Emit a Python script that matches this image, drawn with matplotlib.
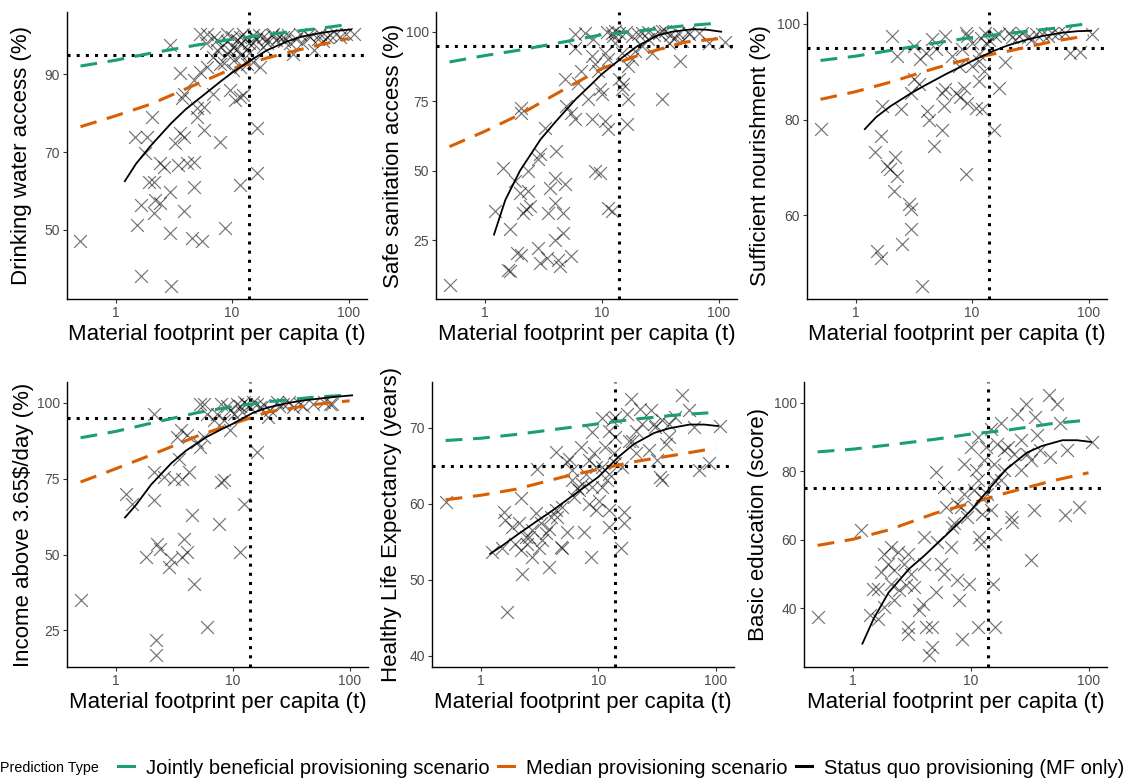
import matplotlib
matplotlib.use("Agg")
import matplotlib.pyplot as plt
from matplotlib.lines import Line2D

plt.rcParams["font.family"] = ["Liberation Sans", "DejaVu Sans"]

# --- shared x grids for the fitted lines (material footprint, t/cap) ---
SCENARIO_MF = [0.5, 1, 2, 5, 10, 20, 50, 100]
STATUSQUO_MF = [1.2, 1.5, 2, 3, 4, 6, 8, 10, 15, 20, 30, 40, 60, 80, 105]

# --- Drinking water access (%) ---
water_mf = [0.50, 1.64, 2.99, 1.53, 1.64, 2.13, 2.2, 2.4, 1.93, 2.13, 2.4, 2.6, 2.06, 1.48, 1.86,
            1.8, 2.95, 2.95, 3.84, 4.68, 4.5, 5.5, 8.7, 11.7, 16.3, 16.3, 11.7, 9.6, 10.6, 12.5,
            7.9, 5.7, 5.0, 5.7, 3.84, 3.6, 3.26, 3.4, 4.1, 4.68, 3.7, 3.84, 3.6, 4.68, 5.3,
            5.0, 6.9, 2.95, 6.1, 6.9, 7.9, 6.1, 7.4, 9.0, 10.2, 11.7, 13.3, 17.3, 15.2, 10.2,
            11.0, 12.5, 15.2, 18.5, 22.5, 27.4, 31.3, 33.5, 38.2, 46.4, 50, 56.5, 68.5, 78.4, 95.3,
            112, 13.3, 15.2, 18.5, 24, 9.0, 5.3, 7.4, 19.8, 11.7,
            6, 7, 8, 9, 10, 11, 12, 13, 14, 16, 17, 20, 22, 25, 28, 30, 35, 40, 45, 55, 60, 65, 85,
            8.5, 9.5, 10.5, 12, 14]
water = [47.0, 38.2, 35.5, 51.3, 56.4, 54.3, 57.7, 56.8, 62.4, 62.4, 67.1, 66.2, 79.1, 73.9, 73.9,
         69.7, 59.8, 49.1, 54.7, 61.1, 47.9, 47.0, 50.4, 61.5, 64.5, 76.1, 84.2, 85.9, 83.3, 84.6,
         72.6, 75.6, 81.2, 81.6, 73.9, 74.8, 72.2, 66.7, 67.1, 67.5, 83.8, 85.0, 90.2, 88.5, 90.6,
         79.1, 85.0, 97.4, 91.9, 94.4, 92.7, 100.4, 98.7, 95.3, 91.0, 91.9, 92.7, 91.9, 93.2, 97.0,
         98.7, 100.4, 100.0, 99.6, 100.4, 99.6, 97.9, 95.3, 100.4, 99.6, 96.2, 100.4, 100.0, 100.4, 100.4,
         100.4, 96.6, 97.9, 97.0, 98.7, 100.4, 100.4, 96.2, 99.1, 99.6,
         98.0, 99.5, 97.0, 98.5, 99.5, 96.5, 98.0, 99.0, 98.0, 99.0, 100.0, 98.0, 100.0, 99.5, 98.5,
         100.0, 99.0, 98.0, 100.0, 99.0, 98.5, 99.5, 99.5, 93.0, 96.0, 94.0, 95.0, 95.5]
water_joint = [92.1, 93.6, 95.4, 97.5, 99.0, 100.2, 101.6, 102.8]
water_median = [76.5, 79.3, 82.3, 87.5, 91.4, 94.2, 97.2, 99.2]
water_status = [62.5, 67.0, 71.6, 77.4, 81.0, 85.2, 88.2, 90.4, 93.9, 96.2, 98.5, 99.7, 100.7, 101.2, 101.5]

# --- Safe sanitation access (%) ---
sanit_mf = [0.5, 1.22, 1.44, 1.64, 1.58, 1.64, 1.81, 1.87, 2.06, 1.99, 2.35, 2.27, 2.43, 2.13, 2.06,
            2.06, 2.35, 2.86, 2.96, 2.86, 2.96, 3.38, 3.27, 3.49, 3.6, 3.98, 4.1, 3.98, 3.98, 4.25,
            4.4, 4.85, 4.7, 4.7, 5.5, 5.0, 5.5, 5.9, 4.85, 5.9, 5.9, 6.3, 6.7, 7.7, 8.2,
            8.8, 9.3, 9.6, 10, 10.7, 11.4, 8.8, 9.6, 11.4, 12.2, 7.2, 8.5, 8.2, 10.7, 12.2,
            13, 13, 14, 14.9, 15.3, 16.4, 16.9, 16.9, 18.1, 19.3, 22, 20.6, 25.1, 26.8, 32.7,
            30.6, 35, 37.3, 42.5, 48.6, 47, 55.3, 67.5, 82, 114, 11.4, 14.9, 18.1, 22,
            11, 12.5, 14, 16, 25, 28, 33, 38, 45, 55]
sanit = [8.7, 35.5, 51.1, 29.1, 14.4, 13.8, 46.3, 20.4, 19.8, 42.1, 42.7, 36.1, 37.3, 34.9, 72.7,
         70.9, 49.9, 54.1, 55.9, 22.2, 16.8, 18.6, 65.5, 34.9, 43.9, 47.5, 57.1, 38.5, 25.2, 18.0,
         15.6, 45.1, 34.9, 27.6, 19.2, 73.3, 70.9, 68.5, 82.9, 99.2, 94.4, 81.7, 85.9, 75.7, 68.5,
         88.3, 85.9, 79.3, 77.5, 67.9, 64.9, 49.9, 49.3, 36.7, 35.5, 99.8, 97.4, 91.3, 92.5, 99.8,
         100.4, 96.2, 82.9, 79.3, 81.1, 66.7, 75.7, 87.7, 90.1, 93.1, 95.0, 99.2, 97.4, 92.5, 75.7,
         99.8, 100.4, 96.2, 98.0, 96.8, 89.5, 99.2, 99.8, 96.2, 96.4, 90.1, 92.5, 98.6, 99.8,
         100.0, 98.5, 99.5, 100.0, 100.0, 99.0, 100.2, 99.0, 99.5, 100.0]
sanit_joint = [89.2, 91.5, 93.5, 96.6, 99.0, 100.3, 102.2, 103.2]
sanit_median = [58.7, 64.2, 70.3, 79.8, 86.8, 91.4, 96.3, 97.6]
sanit_status = [27.0, 39.5, 50.0, 61.3, 67.5, 75.8, 80.8, 84.8, 90.8, 94.8, 98.8, 100.1, 101.0, 100.8, 100.1]

# --- Sufficient nourishment (%) ---
nourish_mf = [0.51, 1.48, 1.64, 1.53, 1.64, 1.87, 1.99, 2.2, 2.27, 2.13, 2.51, 2.86, 2.96, 2.96, 3.73,
              4.7, 5.5, 4.1, 4.25, 3.5, 3.2, 2.96, 1.7, 2.43, 2.06, 2.27, 3.2, 3.6, 3.98, 4.5,
              4.85, 5.5, 5.7, 5.9, 7.2, 7.9, 8.5, 8.8, 9.1, 10.7, 11.4, 12.2, 12.6, 15.3, 16.9,
              19.3, 5.9, 6.7, 8.2, 8.8, 10, 11.4, 13, 13.4, 15.8, 20.6, 22, 26.8, 32.7, 39.9,
              48.6, 63, 69, 85, 107, 7.7, 10, 11.4, 9, 12, 14, 17, 25, 30, 35, 45, 55]
nourish = [78.1, 73.2, 76.6, 52.6, 51.2, 70.3, 69.6, 72.2, 68.2, 65.1, 54.0, 62.3, 61.3, 57.2, 45.4,
           74.5, 77.9, 81.8, 80.0, 87.3, 88.4, 85.6, 82.8, 82.1, 97.4, 93.3, 95.3, 92.6, 93.9, 96.7,
           94.6, 85.6, 82.8, 86.3, 85.6, 84.6, 86.6, 68.6, 83.5, 82.5, 88.0, 82.1, 90.1, 77.9, 86.6,
           91.9, 97.4, 93.3, 94.6, 98.1, 96.0, 93.6, 98.1, 95.7, 97.4, 98.1, 97.1, 98.1, 96.7, 97.8,
           98.1, 98.1, 93.9, 94.1, 97.8, 91.2, 91.2, 92.2, 97.5, 97.0, 96.5, 97.8, 97.5, 97.2, 97.9, 97.5, 98.0]
nourish_joint = [92.3, 93.2, 94.4, 96.0, 97.1, 97.9, 99.0, 100.0]
nourish_median = [84.2, 85.8, 87.8, 90.8, 92.8, 94.2, 96.3, 97.5]
nourish_status = [78.0, 80.5, 82.8, 85.5, 87.2, 89.5, 91.0, 92.2, 94.2, 95.4, 96.7, 97.4, 98.1, 98.4, 98.5]

# --- Income above 3.65$/day (%) ---
income_mf = [0.5, 1.22, 1.39, 1.8, 2.12, 2.12, 2.12, 2.2, 2.2, 2.26, 2.4, 2.95, 2.84, 2.58, 3.14,
             3.46, 3.58, 3.35, 3.7, 3.7, 3.8, 4.1, 4.2, 4.1, 4.5, 4.65, 5.3, 5.65, 6.0, 6.9,
             7.6, 7.9, 8.4, 9.5, 10.2, 11.6, 12.4, 16.1, 7.9, 9.5, 10.9, 12.4, 14.1, 16.1, 18.4,
             21, 20, 23.9, 27, 33, 37.8, 49, 67.8, 6.0, 7.3, 8.4, 5.3, 5.0, 5.65,
             11.5, 13, 15, 17, 25, 30, 40, 60, 70, 9, 12]
income = [34.9, 70.1, 66.8, 49.2, 67.9, 77.2, 96.3, 21.9, 16.7, 53.6, 51.9, 48.6, 45.9, 75.6, 75.0,
          81.6, 91.0, 88.8, 75.0, 49.2, 55.2, 50.8, 77.2, 89.3, 62.9, 40.4, 99.8, 99.8, 26.1, 94.3,
          60.2, 73.9, 74.5, 91.0, 96.5, 50.8, 66.8, 83.8, 99.8, 97.6, 99.8, 100.3, 98.7, 99.8, 99.2,
          97.6, 95.4, 100.3, 99.8, 98.7, 99.8, 99.8, 99.8, 96.5, 96.5, 94.3, 85.5, 87.1, 88.8,
          99.0, 99.5, 100.2, 98.5, 99.0, 100.2, 99.0, 100.3, 99.5, 99.0, 97.0]
income_joint = [88.5, 90.6, 93.3, 96.8, 98.8, 100.4, 101.9, 102.6]
income_median = [73.9, 78.3, 82.8, 89.1, 93.1, 97.0, 99.5, 100.7]
income_status = [62.2, 66.5, 73.0, 80.2, 84.3, 88.8, 91.3, 93.1, 96.8, 98.5, 100.0, 100.8, 101.6, 102.1, 102.5]

# --- Healthy Life Expectancy (years) ---
hale_mf = [0.5, 1.25, 1.52, 1.62, 1.68, 1.57, 1.85, 2.18, 2.25, 2.18, 2.11, 2.4, 2.48, 2.73, 2.92,
           2.99, 3.12, 3.23, 3.56, 3.8, 3.8, 3.93, 4.33, 4.33, 4.77, 4.92, 5.4, 5.4, 5.6, 6.0,
           6.2, 6.6, 7.1, 7.5, 7.8, 8.6, 8.9, 8.9, 9.2, 9.5, 10.1, 10.8, 10.8, 11.5, 11.9,
           12.3, 13.2, 13.6, 14.0, 15.5, 16.5, 16.5, 17.7, 18.9, 19.5, 20.8, 22.9, 23.7, 26.9, 27.9,
           29.8, 31.7, 33.8, 35.0, 37.5, 40, 45.5, 52, 58.9, 65, 72, 87.6, 110, 7.3, 8.3,
           9.5, 12.3, 14.0, 16, 18.2, 20.8, 30.7, 35.0, 40, 12.3, 14.0, 6.8, 6.0, 4.9, 3.33,
           2.57, 1.97, 2.73, 4.47, 10.8, 8.3, 12.3]
hale = [60.2, 53.6, 54.1, 57.8, 45.7, 58.9, 56.9, 60.7, 50.8, 53.9, 57.4, 55.6, 54.7, 56.5, 58.7,
        64.5, 54.1, 57.4, 56.1, 51.7, 56.7, 58.2, 66.8, 59.1, 54.3, 54.1, 56.3, 65.5, 65.9, 64.4,
        60.9, 62.0, 67.5, 56.3, 63.9, 53.0, 69.4, 62.2, 66.6, 59.1, 60.4, 71.2, 64.8, 67.5, 63.1,
        56.9, 71.0, 66.6, 68.8, 54.1, 58.9, 57.4, 71.8, 73.8, 68.3, 66.6, 72.5, 70.5, 67.0, 72.3,
        70.5, 65.7, 63.5, 63.1, 67.9, 70.5, 71.4, 74.3, 72.3, 70.1, 64.4, 65.3, 70.2, 62.6, 65.7,
        64.8, 63.9, 65.3, 64.8, 68.3, 69.6, 70.1, 71.0, 68.8, 69.6, 71.4, 61.8, 63.1, 59.6, 55.2,
        55.6, 54.7, 53.0, 58.2, 62.2, 60.0, 59.1]
hale_joint = [68.3, 68.6, 69.1, 69.9, 70.5, 71.1, 71.7, 72.0]
hale_median = [60.5, 61.1, 61.9, 63.5, 64.5, 65.5, 66.5, 67.3]
hale_status = [53.4, 54.4, 55.8, 57.7, 59.0, 61.0, 62.4, 63.5, 66.2, 67.8, 69.3, 69.9, 70.4, 70.4, 70.2]

# --- Basic education (score) ---
educ_mf = [0.5, 1.17, 1.38, 1.47, 1.62, 1.62, 1.73, 1.84, 1.84, 1.97, 2.1, 2.1, 2.24, 2.24, 2.39,
           2.47, 2.72, 2.81, 2.9, 2.9, 2.9, 3.1, 3.31, 3.65, 3.89, 3.99, 3.99, 4.15, 4.43, 4.72,
           4.72, 5.04, 5.04, 5.2, 5.56, 5.95, 5.95, 6.12, 6.75, 6.98, 7.7, 7.93, 8.2, 8.5, 8.74,
           9.3, 9.6, 10, 10.7, 11.0, 11.4, 11.7, 12.1, 12.5, 12.9, 13.4, 14.8, 15.3, 15.7, 16.2,
           16.2, 16.8, 18.0, 19.1, 21.8, 22.5, 24.8, 26.5, 29.2, 32.3, 34.3, 32.3, 35.4, 36.6, 39,
           46, 47.5, 54, 57.7, 65.7, 63.6, 82.8, 107, 10.7, 11.4, 12.1, 13.8, 14.8, 15.7, 18,
           20.6, 23.3, 8.74, 7.7, 7.2, 11.4, 19.1, 26.5, 30.2]
educ = [37.4, 62.7, 37.9, 45.7, 45.7, 36.9, 50.5, 55.9, 40.3, 53.0, 57.9, 47.1, 42.3, 51.0, 56.4,
        45.2, 53.0, 46.6, 34.5, 32.5, 55.9, 50.0, 46.2, 39.3, 41.3, 53.0, 60.8, 34.5, 26.2, 28.6,
        34.5, 44.7, 79.7, 59.3, 53.0, 50.0, 75.4, 69.5, 57.8, 63.7, 48.1, 42.3, 69.5, 31.1, 82.2,
        66.6, 47.1, 87.0, 74.4, 80.2, 34.5, 60.8, 58.8, 67.6, 83.2, 87.0, 92.4, 47.1, 77.3, 34.5,
        61.7, 88.0, 93.9, 80.2, 66.6, 65.1, 96.8, 89.0, 99.7, 53.9, 68.5, 83.2, 95.8, 90.5, 86.1,
        102.1, 84.1, 99.7, 93.9, 86.1, 67.1, 69.5, 88.5, 69.5, 77.3, 72.4, 73.4, 68.5, 82.2, 77.3,
        87.0, 85.1, 73.4, 70.5, 64.7, 90.0, 86.1, 80.2, 85.1]
educ_joint = [85.6, 86.4, 87.6, 89.3, 90.8, 91.9, 93.9, 94.9]
educ_median = [58.3, 60.1, 62.8, 67.7, 70.6, 73.6, 77.2, 79.5]
educ_status = [29.6, 37.0, 44.5, 51.5, 55.2, 60.9, 65.0, 68.5, 75.6, 80.5, 85.4, 87.3, 89.0, 89.0, 88.5]

MF_THRESHOLD = 14
GREEN = "#1B9E77"
ORANGE = "#D95F02"
TICK_GREY = "#4D4D4D"

# panel boxes in pixels: (left, right, top, bottom), y-label offset (axes fraction)
W, H = 1130, 783
panels = [
    ("Drinking water access (%)", water_mf, water, water_joint, water_median, water_status,
     95, (32.2, 106.0), [50, 70, 90], (67, 367, 12, 299), -0.117),
    ("Safe sanitation access (%)", sanit_mf, sanit, sanit_joint, sanit_median, sanit_status,
     95, (3.8, 107.2), [25, 50, 75, 100], (436, 737, 12, 299), -0.106),
    ("Sufficient nourishment (%)", nourish_mf, nourish, nourish_joint, nourish_median, nourish_status,
     95, (42.6, 102.4), [60, 80, 100], (807, 1107, 12, 299), -0.12),
    ("Income above 3.65$/day (%)", income_mf, income, income_joint, income_median, income_status,
     95, (12.9, 106.9), [25, 50, 75, 100], (67, 368, 382, 667), -0.11),
    ("Healthy Life Expectancy (years)", hale_mf, hale, hale_joint, hale_median, hale_status,
     65, (38.5, 76.0), [40, 50, 60, 70], (432, 734, 382, 667), -0.10),
    ("Basic education (score)", educ_mf, educ, educ_joint, educ_median, educ_status,
     75, (22.8, 106.0), [40, 60, 80, 100], (804, 1107, 382, 667), -0.116),
]

fig = plt.figure(figsize=(W / 100, H / 100), dpi=100)

for label, mf, vals, joint, median, status, thr, ylim, yticks, box, ylab_x in panels:
    left, right, top, bottom = box
    ax = fig.add_axes([left / W, (H - bottom) / H, (right - left) / W, (bottom - top) / H])
    ax.set_xscale("log")

    ax.axvline(MF_THRESHOLD, color="black", lw=2.2, linestyle=(0, (1, 2)), zorder=1)
    ax.axhline(thr, color="black", lw=2.2, linestyle=(0, (1, 2)), zorder=1)

    ax.scatter(mf, vals, marker="x", s=85, c="black", alpha=0.55, linewidths=0.85, zorder=2)

    ax.plot(SCENARIO_MF, joint, color=GREEN, lw=2.2, dashes=(5.5, 3.5), zorder=3)
    ax.plot(SCENARIO_MF, median, color=ORANGE, lw=2.2, dashes=(5.5, 3.5), zorder=3)
    ax.plot(STATUSQUO_MF, status, color="black", lw=1.3, zorder=4)

    ax.set_xlim(0.383, 143.5)
    ax.set_ylim(*ylim)
    ax.set_xticks([1, 10, 100])
    ax.set_xticklabels(["1", "10", "100"])
    ax.xaxis.set_minor_locator(matplotlib.ticker.NullLocator())
    ax.set_yticks(yticks)
    ax.tick_params(axis="both", labelsize=10, labelcolor=TICK_GREY, color="#333333",
                   length=3, width=0.8, pad=2)

    for side in ["top", "right"]:
        ax.spines[side].set_visible(False)
    for side in ["left", "bottom"]:
        ax.spines[side].set_linewidth(1.0)

    ax.set_xlabel("Material footprint per capita (t)", fontsize=16)
    ax.set_ylabel(label, fontsize=16)
    ax.xaxis.set_label_coords(0.5, -0.087)
    ax.yaxis.set_label_coords(ylab_x, 0.5)

# legend along the bottom
fig.text(0, (H - 768) / H, "Prediction Type", fontsize=10.3, va="center", ha="left",
         family=["Liberation Sans Narrow", "Liberation Sans"])
handles = [
    Line2D([], [], color=GREEN, lw=2.2),
    Line2D([], [], color=ORANGE, lw=2.2),
    Line2D([], [], color="black", lw=2.2),
]
labels = ["Jointly beneficial provisioning scenario", "Median provisioning scenario",
          "Status quo provisioning (MF only)"]
fig.legend(handles, labels, ncol=3, loc="center", bbox_to_anchor=(621 / W, (H - 768) / H),
           frameon=False, fontsize=14.5, handlelength=0.8, handletextpad=0.6,
           columnspacing=0.4, borderpad=0, borderaxespad=0)

fig.savefig("out.png", dpi=100)
